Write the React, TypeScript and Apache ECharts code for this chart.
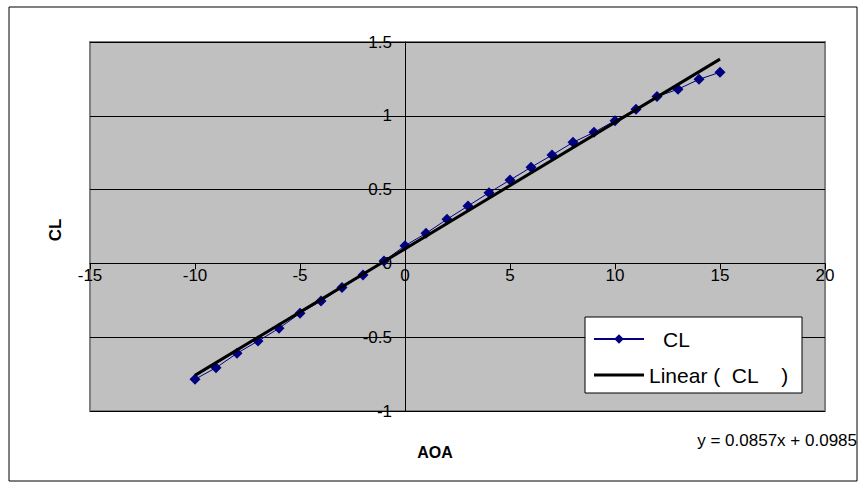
import React, { useEffect, useRef } from "react";
import * as echarts from "echarts";

const AOA = [-10, -9, -8, -7, -6, -5, -4, -3, -2, -1, 0, 1, 2, 3, 4, 5, 6, 7, 8, 9, 10, 11, 12, 13, 14, 15];
const CL = [-0.785, -0.707, -0.609, -0.526, -0.44, -0.338, -0.255, -0.164, -0.079, 0.016, 0.12, 0.204, 0.299, 0.389, 0.479, 0.565, 0.651, 0.734, 0.82, 0.888, 0.967, 1.044, 1.13, 1.18, 1.247, 1.295];
const TREND_SLOPE = 0.0857;
const TREND_INTERCEPT = 0.0985;
const X_TICKS = [-15, 20, 5];
const Y_TICKS = [-1, 1.5, 0.5];

const FONT = "Liberation Sans, Arial, sans-serif";
const W = 865;
const H = 488;
const GRID = { left: 90, right: 40, top: 42, bottom: 77 };

export default function App() {
  const ref = useRef<HTMLDivElement>(null);
  useEffect(() => {
    if (!ref.current) return;
    const chart = echarts.init(ref.current, null, { renderer: "svg" });
    const xs = [AOA[0], AOA[AOA.length - 1]];
    const trend = xs.map((x) => [x, TREND_SLOPE * x + TREND_INTERCEPT]);
    const plotW = W - GRID.left - GRID.right;
    const plotH = H - GRID.top - GRID.bottom;
    // move the axes so they cross at zero (as in the reference)
    const xAxisOffset = -plotH * (0 - Y_TICKS[0]) / (Y_TICKS[1] - Y_TICKS[0]);
    const yAxisOffset = -plotW * (0 - X_TICKS[0]) / (X_TICKS[1] - X_TICKS[0]);
    chart.setOption({
      animation: false,
      backgroundColor: "#ffffff",
      textStyle: { fontFamily: FONT },
      grid: {
        ...GRID,
        show: true,
        backgroundColor: "#c0c0c0",
        borderColor: "#808080",
        borderWidth: 2,
      },
      xAxis: {
        type: "value",
        position: "bottom",
        offset: xAxisOffset,
        min: X_TICKS[0],
        max: X_TICKS[1],
        interval: X_TICKS[2],
        axisLine: { show: true, onZero: false, lineStyle: { color: "#000", width: 1 } },
        axisTick: { show: true, length: 6, lineStyle: { color: "#000" } },
        axisLabel: { color: "#000", fontSize: 17, margin: 4, fontFamily: FONT },
        splitLine: { show: false },
      },
      yAxis: {
        type: "value",
        position: "left",
        offset: yAxisOffset,
        min: Y_TICKS[0],
        max: Y_TICKS[1],
        interval: Y_TICKS[2],
        axisLine: { show: true, onZero: false, lineStyle: { color: "#000", width: 1 } },
        axisTick: { show: true, length: 6, lineStyle: { color: "#000" } },
        axisLabel: { color: "#000", fontSize: 17, margin: 13, fontFamily: FONT },
        splitLine: { show: true, lineStyle: { color: "#000", width: 1 } },
      },
      legend: {
        orient: "vertical",
        left: 585,
        top: 317,
        padding: [11, 3, 7, 8],
        itemGap: 14,
        itemWidth: 50,
        itemHeight: 12,
        backgroundColor: "#ffffff",
        borderColor: "#000",
        borderWidth: 1,
        data: [
          { name: "CL" },
          { name: "Linear ( CL )", icon: "path://M0,0 L50,0 L50,3 L0,3 Z" },
        ],
        formatter: (name: string) => (name === "CL" ? "{a|CL}" : "{b|Linear (  CL    )}"),
        textStyle: {
          color: "#000",
          fontSize: 21,
          width: 150,
          lineHeight: 22,
          fontFamily: FONT,
          rich: {
            a: { fontSize: 21, lineHeight: 22, padding: [0, 0, 0, 14], fontFamily: FONT, color: "#000" },
            b: { fontSize: 21, lineHeight: 22, fontFamily: FONT, color: "#000" },
          },
        },
      },
      series: [
        {
          name: "CL",
          type: "line",
          data: AOA.map((x, i) => [x, CL[i]]),
          symbol: "diamond",
          symbolSize: 11,
          itemStyle: { color: "#000080" },
          lineStyle: { color: "#000080", width: 1 },
          z: 2,
        },
        {
          name: "Linear ( CL )",
          type: "line",
          data: trend,
          symbol: "none",
          itemStyle: { color: "#000" },
          lineStyle: { color: "#000", width: 3 },
          z: 3,
        },
      ],
      graphic: [
        {
          type: "rect",
          shape: { x: 9, y: 7, width: 848, height: 474 },
          style: { fill: "none", stroke: "#000", lineWidth: 1 },
          silent: true,
        },
        {
          type: "text",
          x: 55,
          y: 230,
          rotation: Math.PI / 2,
          style: {
            text: "CL",
            font: `bold 17px ${FONT}`,
            fill: "#000",
            align: "center",
            verticalAlign: "middle",
          },
        },
        {
          type: "text",
          x: 435,
          y: 452,
          style: {
            text: "AOA",
            font: `bold 16px ${FONT}`,
            fill: "#000",
            align: "center",
            verticalAlign: "middle",
          },
        },
        {
          type: "text",
          x: 857,
          y: 440,
          style: {
            text: `y = ${TREND_SLOPE}x + ${TREND_INTERCEPT}`,
            font: `17px ${FONT}`,
            fill: "#000",
            align: "right",
            verticalAlign: "middle",
          },
        },
      ],
    });
    return () => chart.dispose();
  }, []);
  return (
    <div
      ref={ref}
      style={{ position: "absolute", left: 0, top: 0, width: W, height: H }}
    />
  );
}
